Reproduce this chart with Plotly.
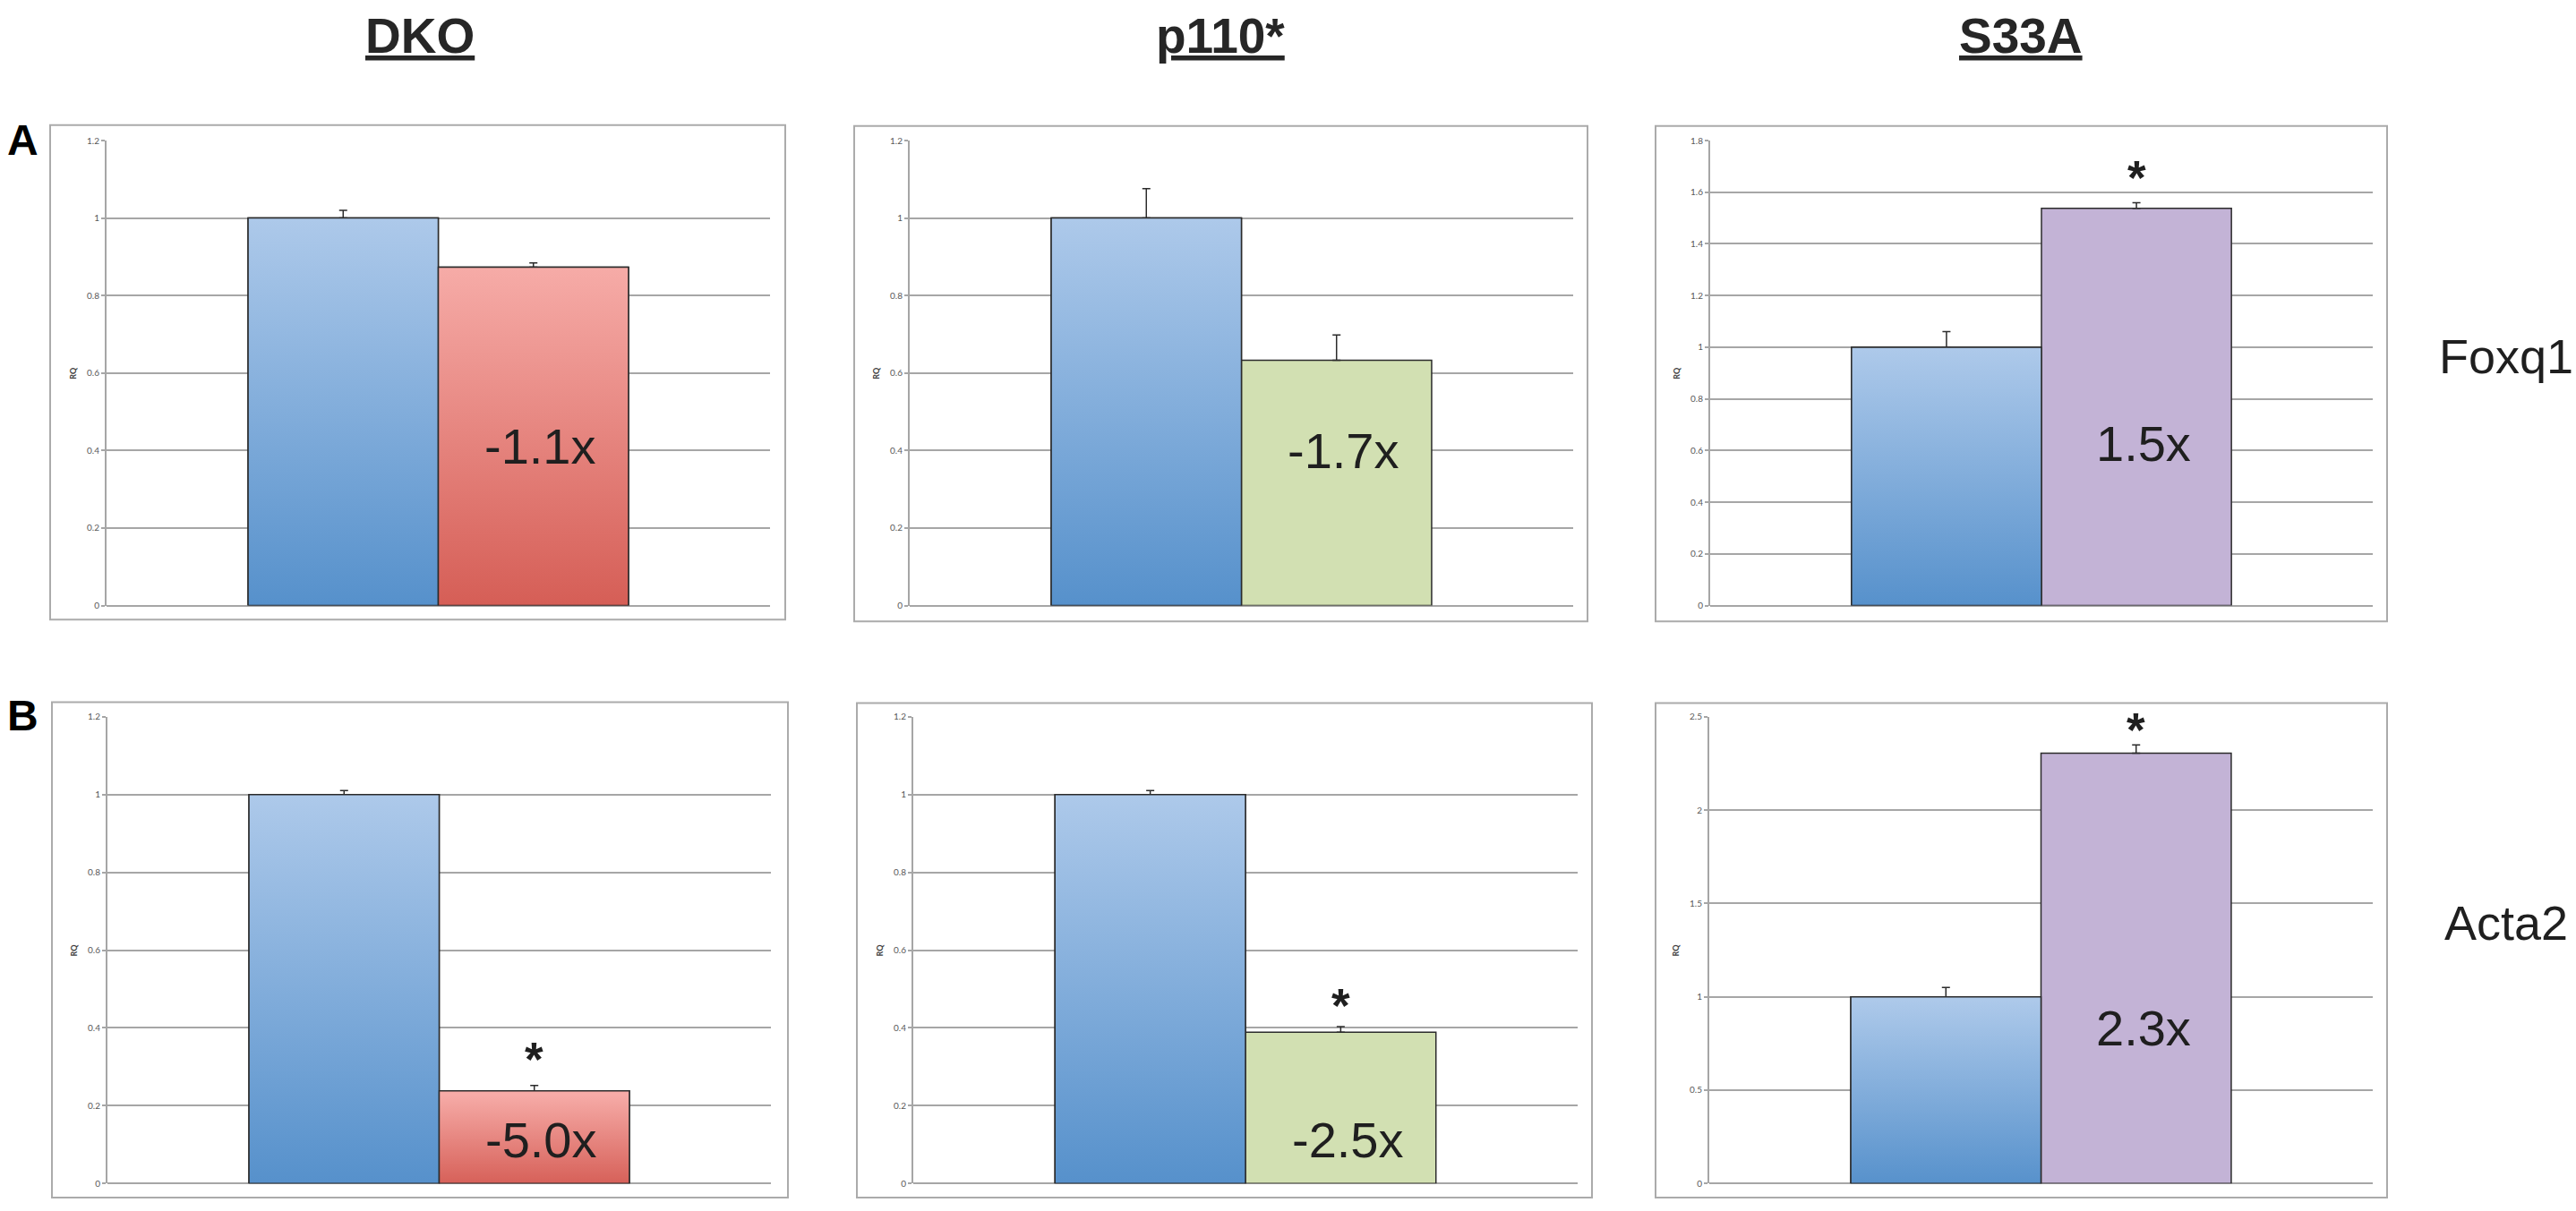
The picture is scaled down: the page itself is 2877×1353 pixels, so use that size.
import plotly.graph_objects as go
from plotly.subplots import make_subplots

W, H = 2877, 1353

# qPCR relative quantification (RQ), rows = genes, cols = genotypes
genotypes = ["DKO", "p110*", "S33A"]
genes = ["Foxq1", "Acta2"]
control_rq = [[1.00, 1.00, 1.00], [1.00, 1.00, 1.00]]
control_err = [[0.020, 0.076, 0.060], [0.010, 0.010, 0.050]]
mutant_rq = [[0.873, 0.633, 1.538], [0.238, 0.389, 2.305]]
mutant_err = [[0.011, 0.065, 0.021], [0.014, 0.014, 0.044]]
fold_change = [["-1.1x", "-1.7x", "1.5x"], ["-5.0x", "-2.5x", "2.3x"]]
significant = [[False, False, True], [True, True, True]]
y_max = [[1.2, 1.2, 1.8], [1.2, 1.2, 2.5]]
y_step = [[0.2, 0.2, 0.2], [0.2, 0.2, 0.5]]
row_letters = ["A", "B"]

# layout (pixels in the 2877x1353 page)
plot_x = [[(119, 860), (1016, 1757), (1910, 2650)],
          [(120, 861), (1020, 1762), (1909, 2650)]]
plot_y = [(151.5, 676), (801.5, 1328)]
panel_box = [[(56, 134, 877, 692), (954, 135, 1773, 694), (1849, 135, 2666, 694)],
             [(58, 785, 880, 1344), (957, 786, 1778, 1344), (1849, 786, 2666, 1344)]]
label_frac = [[0.342, 0.333, 0.349], [0.093, 0.093, 0.334]]
star_shift = [[0, 0, 28], [29, 24, 17]]
title_x = [469, 1363, 2257]

CTRL_X, MUT_X, BAR_W = -0.5, 0.5, 1.0
X_HALF = 1.744

GRID = "#A6A6A6"
OUTLINE = "#2b2b2b"
TEXT = "#1f1f1f"
BLUE = ("#5590CB", "#ADC9EA")  # bottom, top
RED = ("#D55D55", "#F6ABA7")
mutant_style = [("grad", RED), ("solid", "#D2E0B2"), ("solid", "#C3B3D6")]
FONT = "Liberation Sans, Arial"


def px(x):
    return x / W


def py(y):
    return 1 - y / H


fig = make_subplots(rows=2, cols=3)


def gradient_overlay(x0, v, colors, row, col):
    fig.add_trace(
        go.Scatter(
            x=[x0 - BAR_W / 2, x0 - BAR_W / 2, x0 + BAR_W / 2, x0 + BAR_W / 2, x0 - BAR_W / 2],
            y=[0, v, v, 0, 0],
            mode="lines",
            fill="toself",
            fillgradient=dict(
                type="vertical",
                colorscale=[[0, colors[0]], [1, colors[1]]],
                start=0,
                stop=v,
            ),
            line=dict(color=OUTLINE, width=1.5),
            hoverinfo="skip",
            showlegend=False,
        ),
        row=row,
        col=col,
    )


for r in range(2):
    for c in range(3):
        row, col = r + 1, c + 1
        err_style = dict(
            type="data", symmetric=False, arrayminus=[0],
            color=OUTLINE, thickness=1.5, width=4.5,
        )
        fig.add_trace(
            go.Bar(
                x=[CTRL_X], y=[control_rq[r][c]], width=[BAR_W],
                marker=dict(color=BLUE[1], line=dict(color=OUTLINE, width=1.5)),
                error_y=dict(array=[control_err[r][c]], **err_style),
                name="control", showlegend=False,
            ),
            row=row, col=col,
        )
        kind, col_spec = mutant_style[c]
        fig.add_trace(
            go.Bar(
                x=[MUT_X], y=[mutant_rq[r][c]], width=[BAR_W],
                marker=dict(color=col_spec[1] if kind == "grad" else col_spec,
                            line=dict(color=OUTLINE, width=1.5)),
                error_y=dict(array=[mutant_err[r][c]], **err_style),
                name=genotypes[c], showlegend=False,
            ),
            row=row, col=col,
        )
        gradient_overlay(CTRL_X, control_rq[r][c], BLUE, row, col)
        if kind == "grad":
            gradient_overlay(MUT_X, mutant_rq[r][c], col_spec, row, col)

        k = r * 3 + c + 1
        xa = "xaxis" if k == 1 else f"xaxis{k}"
        ya = "yaxis" if k == 1 else f"yaxis{k}"
        xr = "x" if k == 1 else f"x{k}"
        yr = "y" if k == 1 else f"y{k}"
        x0, x1 = plot_x[r][c]
        y0, y1 = plot_y[r]
        fig.layout[xa].update(
            domain=[px(x0), px(x1)], range=[-X_HALF, X_HALF],
            showgrid=False, zeroline=False, showline=False,
            showticklabels=False, ticks="",
        )
        fig.layout[ya].update(
            domain=[py(y1), py(y0)], range=[0, y_max[r][c]],
            dtick=y_step[r][c], tick0=0,
            showgrid=True, gridcolor=GRID, gridwidth=2,
            zeroline=True, zerolinecolor=GRID, zerolinewidth=2,
            showline=True, linecolor=GRID, linewidth=2,
            ticks="outside", ticklen=4, tickcolor=GRID, tickwidth=1.5,
            tickfont=dict(family="Lato", size=10, color="#595959"),
        )

        # fold change label inside the mutant bar
        fig.add_annotation(
            x=MUT_X, y=label_frac[r][c], xref=xr, yref=f"{yr} domain",
            text=fold_change[r][c], showarrow=False, xshift=8,
            xanchor="center", yanchor="middle",
            font=dict(family=FONT, size=56, color=TEXT),
        )
        if significant[r][c]:
            fig.add_annotation(
                x=MUT_X, y=mutant_rq[r][c] + mutant_err[r][c], xref=xr, yref=yr,
                text="<b>*</b>", showarrow=False,
                xanchor="center", yanchor="middle", yshift=star_shift[r][c],
                font=dict(family=FONT, size=53, color=TEXT),
            )
        # RQ axis title
        fig.add_annotation(
            x=px(x0 - 37), y=0.5, xref="paper", yref=f"{yr} domain",
            text="<b>RQ</b>", textangle=-90, showarrow=False,
            xanchor="center", yanchor="middle",
            font=dict(family="Lato", size=9, color="#404040"),
        )
        bx0, by0, bx1, by1 = panel_box[r][c]
        fig.add_shape(
            type="rect", xref="paper", yref="paper",
            x0=px(bx0), x1=px(bx1), y0=py(by1), y1=py(by0),
            line=dict(color="#ABABAB", width=2), fillcolor="rgba(0,0,0,0)",
            layer="below",
        )

# column titles
for c, name in enumerate(genotypes):
    fig.add_annotation(
        x=px(title_x[c]), y=py(33), xref="paper", yref="paper",
        text=f"<u><b>{name}</b></u>", showarrow=False,
        xanchor="center", yanchor="middle",
        font=dict(family=FONT, size=55, color="#262626"),
    )

# row letters
for letter, yc in zip(row_letters, [151, 800]):
    fig.add_annotation(
        x=px(25), y=py(yc), xref="paper", yref="paper",
        text=f"<b>{letter}</b>", showarrow=False,
        xanchor="center", yanchor="middle",
        font=dict(family=FONT, size=48, color="black"),
    )

# gene labels
for gene, yc in zip(genes, [395, 1034]):
    fig.add_annotation(
        x=px(2799), y=py(yc), xref="paper", yref="paper",
        text=gene, showarrow=False,
        xanchor="center", yanchor="middle",
        font=dict(family=FONT, size=54, color=TEXT),
    )

fig.update_layout(
    width=W, height=H,
    margin=dict(l=0, r=0, t=0, b=0),
    paper_bgcolor="white", plot_bgcolor="white",
    barmode="overlay",
    showlegend=False,
)

fig.write_html(
    "out.html",
    config={"displayModeBar": False},
    post_script="document.body.style.margin='0';",
)
